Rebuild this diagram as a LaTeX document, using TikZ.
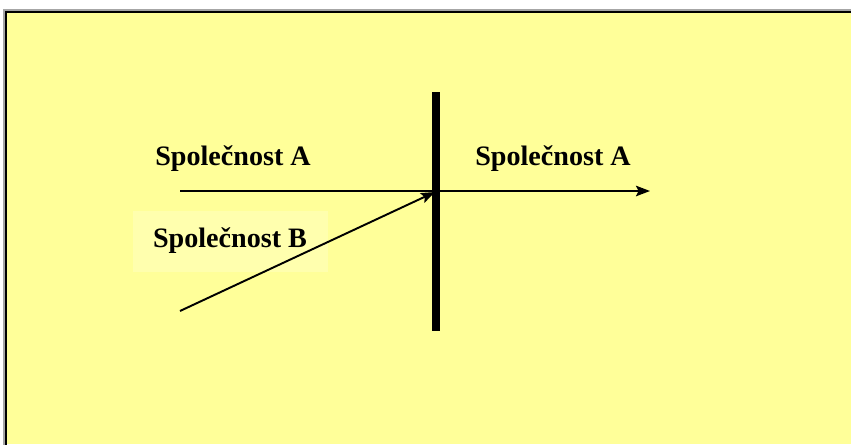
\documentclass[tikz,border=0pt]{standalone}
\usepackage{fontspec}
\setmainfont{Liberation Serif}
\usetikzlibrary{arrows.meta}
\definecolor{paper}{HTML}{FFFF99}
\definecolor{paperlight}{HTML}{FFFFB8}

\begin{document}
\begin{tikzpicture}[x=0.02cm, y=-0.02cm, >={Stealth[length=8pt, width=6pt, inset=1.5pt]}, line width=1.1pt]

  \tikzstyle{label}=[font=\bfseries\fontsize{16}{19}\selectfont, text=black, inner sep=0pt]

  \useasboundingbox (0,0) rectangle (851,444);
  \fill[white] (0,0) rectangle (851,444);
  \fill[paper] (6,12) rectangle (851,444);
  \draw[gray!70, line width=1.5pt] (4,464) -- (4,10) -- (871,10);
  \draw[black, line width=0.8pt] (6,464) -- (6,12) -- (871,12);

  \fill[paperlight, opacity=0.7] (133,211) rectangle (328,272);

  \coordinate (aStart) at (180,191);
  \coordinate (aEnd) at (650,191);
  \coordinate (bStart) at (180,311);
  \coordinate (cross) at (435,192);
  \coordinate (barTop) at (436,92);
  \coordinate (barBot) at (436,331);

  \node[label] (compA) at (233,159) {Společnost A};
  \node[label] (compAout) at (553,159) {Společnost A};
  \node[label] (compB) at (230,241) {Společnost B};

  \draw[line width=4.5pt] (barTop) -- (barBot);
  \draw[->] (aStart) -- (aEnd);
  \draw[->] (bStart) -- (cross);

\end{tikzpicture}
\end{document}
